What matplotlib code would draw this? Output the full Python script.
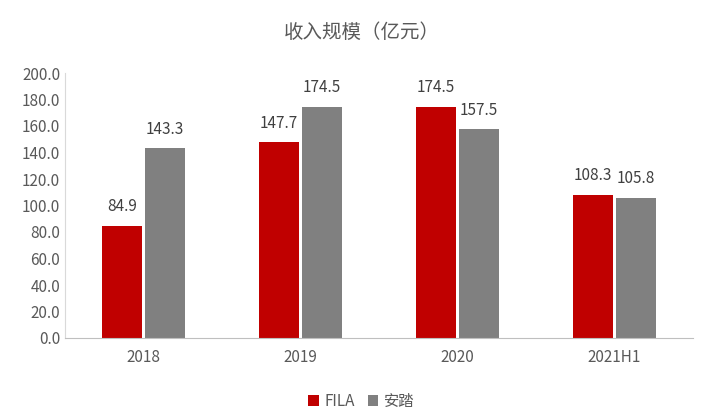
import numpy as np
import matplotlib
matplotlib.use("Agg")
import matplotlib.pyplot as plt

plt.rcParams["font.family"] = ["Noto Sans CJK SC", "DejaVu Sans"]

categories = ["2018", "2019", "2020", "2021H1"]
fila = [84.9, 147.7, 174.5, 108.3]
anta = [143.3, 174.5, 157.5, 105.8]
series_names = ["FILA", "安踏"]

fig = plt.figure(figsize=(7.23, 4.16), dpi=100)
ax = fig.add_axes([65 / 723, 1 - 338 / 416, 628 / 723, 265 / 416])

x = np.arange(len(categories))
w = 0.26
gap = 0.007
b1 = ax.bar(x - w / 2 - gap, fila, w, color="#C00000", label=series_names[0])
b2 = ax.bar(x + w / 2 + gap, anta, w, color="#808080", label=series_names[1])

for bars, vals in ((b1, fila), (b2, anta)):
    for r, v in zip(bars, vals):
        ax.text(r.get_x() + r.get_width() / 2, v + 8, f"{v:.1f}",
                ha="center", va="bottom", fontsize=11, color="#404040")

ax.set_xlim(-0.5, len(categories) - 0.5)
ax.set_ylim(0, 200)
ax.set_yticks(np.arange(0, 201, 20))
ax.set_yticklabels([f"{v:.1f}" for v in np.arange(0, 201, 20)])
ax.set_xticks(x)
ax.set_xticklabels(categories)
ax.tick_params(axis="both", length=0, labelsize=11, colors="#595959")
ax.tick_params(axis="x", pad=8)
for s in ("top", "right"):
    ax.spines[s].set_visible(False)
ax.spines["left"].set_color("#D9D9D9")
ax.spines["bottom"].set_color("#BFBFBF")

fig.text(0.5, 1 - 32 / 416, "收入规模（亿元）", ha="center", va="center",
         fontsize=14, color="#595959")
fig.legend(loc="center", bbox_to_anchor=(0.5, 1 - 401 / 416), ncol=2,
           frameon=False, fontsize=11, handlelength=0.7, handleheight=0.7,
           columnspacing=0.8, handletextpad=0.4, labelcolor="#595959")

fig.savefig("out.png", dpi=100)
